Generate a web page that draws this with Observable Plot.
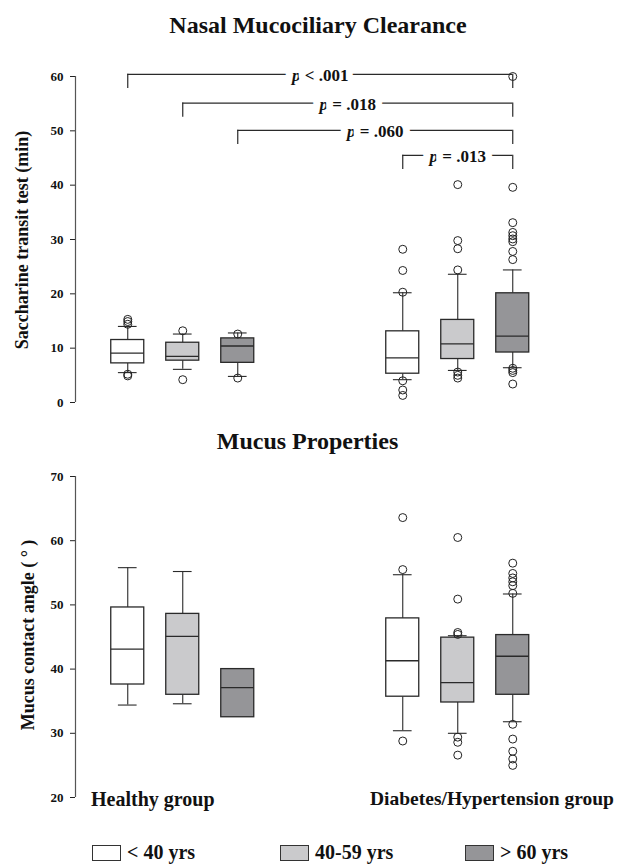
<!DOCTYPE html>
<html><head><meta charset="utf-8">
<script src="https://cdn.jsdelivr.net/npm/d3@7"></script>
<script src="https://cdn.jsdelivr.net/npm/@observablehq/plot@0.6"></script>
<style>
body{margin:0;background:#fff;}
#wrap{position:relative;width:617px;height:864px;overflow:hidden;font-family:"Liberation Serif","Times New Roman",serif;font-weight:bold;color:#111;}
.t{position:absolute;line-height:1;white-space:nowrap;}
.vl{position:absolute;white-space:nowrap;line-height:1;font-size:18px;transform:translate(-50%,-50%) rotate(-90deg);}
.plot{position:absolute;left:0;}
.sw{position:absolute;box-sizing:border-box;border:1px solid #333;}
#wrap svg g[aria-label="y-axis tick label"] text{font-size:13px;font-weight:bold;fill:#111;}
</style></head><body><div id="wrap"></div>
<script>
// ---------- data ----------
const groups = ["Healthy group", "Diabetes/Hypertension group"];
const ages = ["< 40 yrs", "40-59 yrs", "> 60 yrs"];
const ageFills = ["#ffffff", "#cacacc", "#959598"];

// Saccharine transit test (min) — order: Healthy <40, 40-59, >60, Diabetes <40, 40-59, >60
const sttTicks = [0, 10, 20, 30, 40, 50, 60];
const sttQ1  = [7.2, 7.7, 7.3, 5.3, 8.0, 9.2];
const sttMed = [9.1, 8.5, 10.4, 8.2, 10.8, 12.2];
const sttQ3  = [11.5, 11.0, 11.8, 13.1, 15.2, 20.1];
const sttLo  = [5.5, 6.1, 4.8, 4.2, 5.9, 6.4];
const sttHi  = [14.0, 12.6, 12.8, 20.2, 23.6, 24.4];
const sttOutliers = [
  [15.3, 14.9, 14.4, 5.2, 4.9],
  [13.2, 4.2],
  [12.6, 4.5],
  [28.2, 24.3, 20.3, 4.0, 2.3, 1.3],
  [40.1, 29.8, 28.3, 24.4, 5.6, 5.0, 4.5],
  [60.0, 39.6, 33.1, 31.3, 30.7, 30.1, 29.6, 27.8, 26.3, 6.3, 5.9, 5.5, 3.4]
];
// significance brackets (box indices into the 6 boxes)
const bracketFrom = [0, 1, 2, 3];
const bracketTo = [5, 5, 5, 5];
const bracketLevel = [60.4, 55.1, 50.1, 45.5];
const bracketLabel = ["p < .001", "p = .018", "p = .060", "p = .013"];

// Mucus contact angle (°)
const mcaTicks = [20, 30, 40, 50, 60, 70];
const mcaQ1  = [37.6, 36.0, 32.5, 35.7, 34.8, 36.0];
const mcaMed = [43.1, 45.1, 37.1, 41.3, 37.9, 42.0];
const mcaQ3  = [49.6, 48.6, 40.0, 47.9, 44.9, 45.3];
const mcaLo  = [34.4, 34.6, null, 30.4, 30.0, 31.8];
const mcaHi  = [55.8, 55.2, null, 54.7, 45.2, 51.7];
const mcaOutliers = [
  [], [], [],
  [63.6, 55.5, 28.8],
  [60.5, 50.9, 45.7, 45.4, 29.4, 28.6, 26.6],
  [56.5, 54.9, 54.2, 53.6, 53.0, 51.8, 31.4, 29.1, 27.2, 26.0, 25.0]
];

// ---------- build ----------
const wrap = document.getElementById("wrap");
const xDomain = [-0.95, 8.5];
const HALF = 0.3, CAP = 0.17;

function makeBoxes(q1, med, q3, lo, hi, outl) {
  const boxes = [], pts = [];
  groups.forEach((g, gi) => ages.forEach((a, ai) => {
    const i = gi * ages.length + ai;
    const pos = gi * (ages.length + 2) + ai;
    boxes.push({group: g, age: a, pos, q1: q1[i], med: med[i], q3: q3[i], lo: lo[i], hi: hi[i]});
    outl[i].forEach(v => pts.push({pos, v}));
  }));
  return {boxes, pts};
}

function panel({top, height, mt, mb, ticks, q1, med, q3, lo, hi, outl, brackets}) {
  const {boxes, pts} = makeBoxes(q1, med, q3, lo, hi, outl);
  const wb = boxes.filter(d => d.lo != null);
  const ink = "#2a2a2a";
  const marks = [
    Plot.ruleX([0], {x: () => xDomain[0], y1: () => ticks[0], y2: () => ticks[ticks.length - 1], stroke: "#555", strokeWidth: 1.2}),
    Plot.ruleX(wb, {x: "pos", y1: "lo", y2: "q1", stroke: ink, strokeWidth: 1.1}),
    Plot.ruleX(wb, {x: "pos", y1: "q3", y2: "hi", stroke: ink, strokeWidth: 1.1}),
    Plot.ruleY(wb, {y: "lo", x1: d => d.pos - CAP, x2: d => d.pos + CAP, stroke: ink, strokeWidth: 1.1}),
    Plot.ruleY(wb, {y: "hi", x1: d => d.pos - CAP, x2: d => d.pos + CAP, stroke: ink, strokeWidth: 1.1}),
    Plot.rect(boxes, {x1: d => d.pos - HALF, x2: d => d.pos + HALF, y1: "q1", y2: "q3", fill: "age", stroke: ink, strokeWidth: 1.3}),
    Plot.ruleY(boxes, {y: "med", x1: d => d.pos - HALF, x2: d => d.pos + HALF, stroke: ink, strokeWidth: 1.3}),
    Plot.dot(pts, {x: "pos", y: "v", r: 4, stroke: "#222", strokeWidth: 1, fill: "none"})
  ];
  if (brackets) {
    const br = bracketFrom.map((f, i) => ({
      x1: boxes[f].pos, x2: boxes[bracketTo[i]].pos, y: bracketLevel[i], label: bracketLabel[i]
    }));
    marks.push(
      Plot.ruleY(br, {y: "y", x1: "x1", x2: "x2", stroke: ink, strokeWidth: 1.2}),
      Plot.ruleX(br, {x: "x1", y1: "y", y2: d => d.y - 2.6, stroke: ink, strokeWidth: 1.2}),
      Plot.ruleX(br, {x: "x2", y1: "y", y2: d => d.y - 2.6, stroke: ink, strokeWidth: 1.2}),
      Plot.text(br, {x: d => (d.x1 + d.x2) / 2, y: "y", text: "label", fontSize: 17, fontWeight: "bold",
        fontFamily: "Liberation Serif", fill: "#111", stroke: "white", strokeWidth: 14, paintOrder: "stroke", dy: 1})
    );
  }
  const svg = Plot.plot({
    width: 617, height,
    marginLeft: 75, marginRight: 22.25, marginTop: mt, marginBottom: mb,
    style: {fontFamily: "Liberation Serif", fontSize: "13px", fontWeight: "bold", color: "#222", background: "transparent"},
    x: {domain: xDomain, axis: null},
    y: {domain: [ticks[0], ticks[ticks.length - 1]], ticks, tickSize: 5, tickPadding: 7, label: null},
    color: {domain: ages, range: ageFills},
    marks
  });
  svg.classList.add("plot");
  svg.style.top = top + "px";
  svg.querySelectorAll("text").forEach(t => {
    const s = t.textContent;
    if (/^p [<=]/.test(s)) {
      t.textContent = "";
      const ts = document.createElementNS("http://www.w3.org/2000/svg", "tspan");
      ts.setAttribute("font-style", "italic");
      ts.textContent = "p";
      t.appendChild(ts);
      t.appendChild(document.createTextNode(s.slice(1)));
    }
  });
  wrap.appendChild(svg);
}

panel({top: 50, height: 370, mt: 26, mb: 18, ticks: sttTicks,
  q1: sttQ1, med: sttMed, q3: sttQ3, lo: sttLo, hi: sttHi, outl: sttOutliers, brackets: true});
panel({top: 460, height: 350, mt: 16, mb: 13, ticks: mcaTicks,
  q1: mcaQ1, med: mcaMed, q3: mcaQ3, lo: mcaLo, hi: mcaHi, outl: mcaOutliers, brackets: false});

function addText(txt, left, top, size, cls = "t", center = false) {
  const d = document.createElement("div");
  d.className = cls;
  d.textContent = txt;
  d.style.left = left + "px";
  d.style.top = top + "px";
  if (size) d.style.fontSize = size + "px";
  if (center) d.style.transform = "translateX(-50%)";
  wrap.appendChild(d);
  return d;
}
addText("Nasal Mucociliary Clearance", 318, 13, 24, "t", true);
addText("Mucus Properties", 307.5, 429, 24, "t", true);
addText("Saccharine transit test (min)", 22, 240, null, "vl");
addText("Mucus contact angle ( \u00B0 )", 28, 635, null, "vl");
addText(groups[0], 91, 789, 20);
addText(groups[1], 370, 789, 19.5);

const legX = [92, 280, 465];
ages.forEach((a, i) => {
  const s = document.createElement("div");
  s.className = "sw";
  s.style.left = legX[i] + "px";
  s.style.top = "845px";
  s.style.width = "29px";
  s.style.height = "16px";
  s.style.background = ageFills[i];
  wrap.appendChild(s);
  addText(a, legX[i] + 35, 842, 20);
});
</script></body></html>
